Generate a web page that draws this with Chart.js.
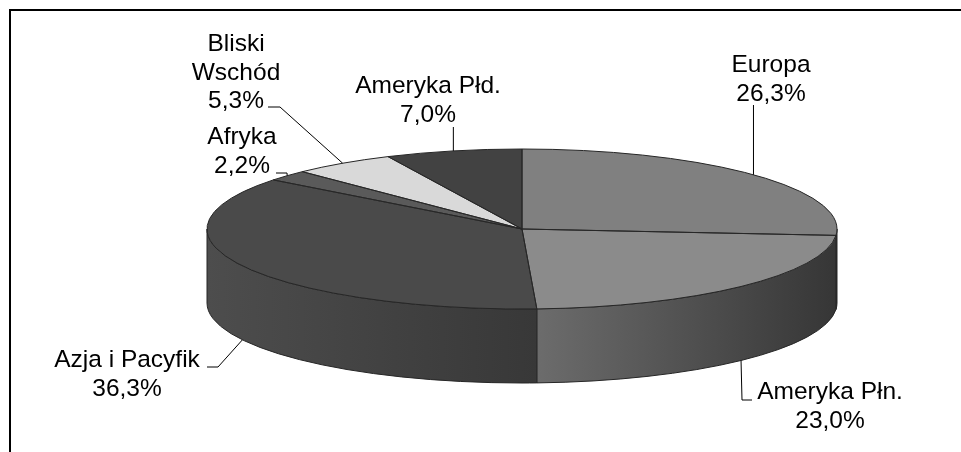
<!DOCTYPE html>
<html>
<head>
<meta charset="utf-8">
<script src="https://cdn.jsdelivr.net/npm/chart.js@4/dist/chart.umd.min.js"></script>
<style>
  html, body { margin: 0; padding: 0; background: #ffffff; }
  #wrap { position: relative; width: 961px; height: 452px; }
</style>
</head>
<body>
<div id="wrap"><canvas id="c" width="961" height="452"></canvas></div>
<script>
// Regional shares (%), clockwise from 12 o'clock
const regions = ['Europa', 'Ameryka Płn.', 'Azja i Pacyfik', 'Afryka', 'Bliski Wschód', 'Ameryka Płd.'];
const labelLines = [['Europa'], ['Ameryka Płn.'], ['Azja i Pacyfik'], ['Afryka'], ['Bliski', 'Wschód'], ['Ameryka Płd.']];
const shares = [26.3, 23.0, 36.3, 2.2, 5.3, 7.0];

// Styling
const topColors = ['#808080', '#8b8b8b', '#4a4a4a', '#5a5a5a', '#d9d9d9', '#424242'];
const sideColors = [
  ['#3a3a3a', '#363636'],
  ['#6c6c6c', '#363636'],
  ['#4d4d4d', '#383838'],
  ['#444444', '#383838'],
  ['#9a9a9a', '#7a7a7a'],
  ['#3a3a3a', '#333333']
];
const EDGE = '#262626';
const PIE = { cx: 522, cy: 229, rx: 315, ry: 80, depth: 74 };
const FONT = '24.5px "Liberation Sans", Arial, sans-serif';
const LINE_H = 28.5;

// Label blocks: centre x, first baseline, and leader-line shape towards the slice
const labelPos = [
  { x: 771, y: 72,  lead: { type: 'v', y: 105 } },
  { x: 830, y: 399, lead: { type: 'h', x0: 752, x1: 742, y: 400 } },
  { x: 127, y: 367, lead: { type: 'h', x0: 207, x1: 218, y: 367 } },
  { x: 242, y: 144, lead: { type: 'h', x0: 276, x1: 287, y: 173 } },
  { x: 236, y: 51,  lead: { type: 'h', x0: 268, x1: 280, y: 107 } },
  { x: 428, y: 93,  lead: { type: 'v', y: 127 } }
];

const fmtPct = v => v.toFixed(1).replace('.', ',') + '%';

function arcs(chart) {
  return chart.getDatasetMeta(0).data;
}

function wallPath(ctx, s, e) {
  ctx.beginPath();
  ctx.ellipse(PIE.cx, PIE.cy, PIE.rx, PIE.ry, 0, s, e, false);
  ctx.ellipse(PIE.cx, PIE.cy + PIE.depth, PIE.rx, PIE.ry, 0, e, s, true);
  ctx.closePath();
}

const pie3d = {
  id: 'pie3d',
  beforeDatasetsDraw(chart) {
    const ctx = chart.ctx;
    const els = arcs(chart);
    // side walls of the visible (front) half
    ctx.save();
    els.forEach((a, i) => {
      const s = Math.max(a.startAngle, 0);
      const e = Math.min(a.endAngle, Math.PI);
      if (s >= e) return;
      const xs = [PIE.cx + PIE.rx * Math.cos(s), PIE.cx + PIE.rx * Math.cos(e)];
      const x0 = Math.min(...xs), x1 = Math.max(...xs);
      const g = ctx.createLinearGradient(x0, 0, Math.max(x1, x0 + 1), 0);
      g.addColorStop(0, sideColors[i][0]);
      g.addColorStop(1, sideColors[i][1]);
      wallPath(ctx, s, e);
      ctx.fillStyle = g;
      ctx.fill();
      ctx.lineWidth = 1;
      ctx.strokeStyle = EDGE;
      ctx.stroke();
    });
    ctx.restore();
    // top face: the library's circular arcs squashed into the ellipse
    const a0 = els[0];
    const R = a0.outerRadius;
    ctx.save();
    ctx.translate(PIE.cx, PIE.cy);
    ctx.scale(PIE.rx / R, PIE.ry / R);
    ctx.translate(-a0.x, -a0.y);
  },
  afterDatasetsDraw(chart) {
    const ctx = chart.ctx;
    ctx.restore();
    const els = arcs(chart);
    ctx.save();
    ctx.lineWidth = 1;
    ctx.strokeStyle = EDGE;
    ctx.lineJoin = 'round';
    els.forEach(a => {
      ctx.beginPath();
      ctx.moveTo(PIE.cx, PIE.cy);
      ctx.ellipse(PIE.cx, PIE.cy, PIE.rx, PIE.ry, 0, a.startAngle, a.endAngle, false);
      ctx.closePath();
      ctx.stroke();
    });
    ctx.restore();
  },
  afterDraw(chart) {
    const ctx = chart.ctx;
    const els = arcs(chart);
    ctx.save();
    // frame
    ctx.strokeStyle = '#000';
    ctx.lineWidth = 2;
    ctx.beginPath();
    ctx.moveTo(10, 452);
    ctx.lineTo(10, 10);
    ctx.lineTo(961, 10);
    ctx.stroke();

    ctx.font = FONT;
    ctx.textAlign = 'center';
    ctx.textBaseline = 'alphabetic';
    ctx.fillStyle = '#000';
    els.forEach((a, i) => {
      const mid = (a.startAngle + a.endAngle) / 2;
      const sn = Math.sin(mid);
      const ax = PIE.cx + PIE.rx * Math.cos(mid);
      const ay = PIE.cy + PIE.ry * sn + (sn > 0 ? PIE.depth : 0);
      const p = labelPos[i];
      const lines = labelLines[i].concat([fmtPct(shares[i])]);
      lines.forEach((t, k) => ctx.fillText(t, p.x, p.y + k * LINE_H));
      ctx.beginPath();
      ctx.lineWidth = 1;
      ctx.strokeStyle = '#000';
      if (p.lead.type === 'v') {
        ctx.moveTo(ax, p.lead.y);
        ctx.lineTo(ax, ay);
      } else {
        ctx.moveTo(p.lead.x0, p.lead.y);
        ctx.lineTo(p.lead.x1, p.lead.y);
        ctx.lineTo(ax, ay);
      }
      ctx.stroke();
    });
    ctx.restore();
  }
};

new Chart(document.getElementById('c'), {
  type: 'pie',
  data: {
    labels: regions,
    datasets: [{
      data: shares,
      backgroundColor: topColors,
      borderWidth: 0,
      hoverOffset: 0,
      clip: false
    }]
  },
  options: {
    responsive: false,
    animation: false,
    events: [],
    layout: { padding: { left: 372, right: 289, top: 79, bottom: 73 } },
    plugins: { legend: { display: false }, tooltip: { enabled: false } }
  },
  plugins: [pie3d]
});
</script>
</body>
</html>
